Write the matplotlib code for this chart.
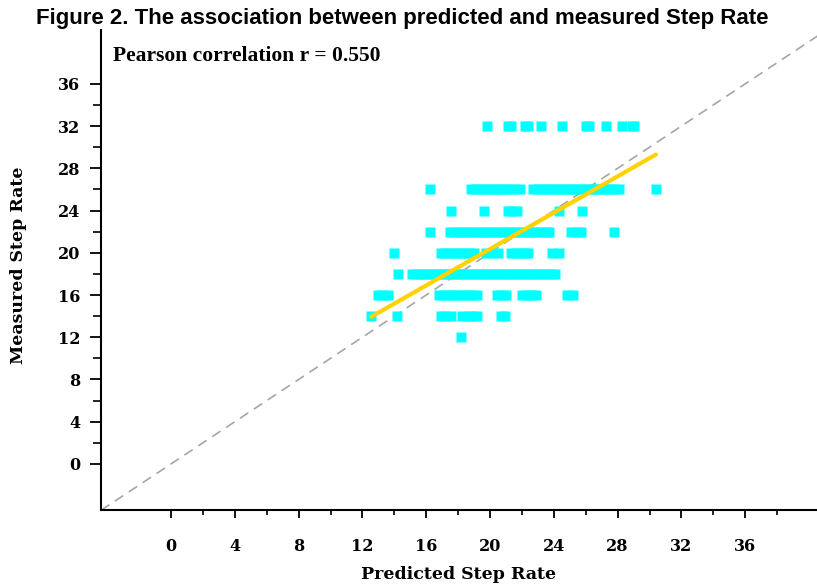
import matplotlib

matplotlib.use("Agg")
import matplotlib.pyplot as plt
import numpy as np
from matplotlib.ticker import FixedLocator

# predicted step rate values, grouped by the measured step rate they belong to
pred_at_32 = [19.8, 21.1, 21.3, 22.2, 22.4, 23.2, 24.5, 26.0, 26.2, 27.25, 28.25, 28.9, 29.05]
pred_at_26 = [16.25, 18.8, 19.1, 19.4, 19.7, 20.0, 20.3, 20.6, 20.9, 21.2, 21.5, 21.9,
              22.7, 23.0, 23.3, 23.6, 23.9, 24.2, 24.5, 24.8, 25.1, 25.4, 25.7, 26.0,
              26.3, 26.6, 26.9, 27.2, 27.5, 27.8, 28.1, 30.4]
pred_at_24 = [17.55, 19.6, 21.1, 21.4, 21.7, 24.3, 25.75]
pred_at_22 = [16.25, 17.5, 17.8, 18.1, 18.4, 18.7, 19.0, 19.3, 19.6, 19.9, 20.2, 20.5,
              20.8, 21.1, 21.4, 21.7, 22.0, 22.3, 22.6, 22.9, 23.2, 23.5, 23.7,
              25.05, 25.4, 25.7, 27.8]
pred_at_20 = [13.95, 16.9, 17.2, 17.5, 17.8, 18.1, 18.4, 18.7, 19.0, 19.75, 20.1, 20.5,
              21.3, 21.6, 21.9, 22.2, 22.4, 23.9, 24.3]
pred_at_18 = [14.25, 15.1, 15.4, 15.7, 16.0, 16.3, 16.6, 16.9, 17.2, 17.5, 17.8, 18.1,
              18.4, 18.7, 19.0, 19.3, 19.6, 19.9, 20.2, 20.5, 20.8, 21.1, 21.4, 21.7,
              22.0, 22.3, 22.6, 22.9, 23.2, 23.5, 23.8, 24.05]
pred_at_16 = [12.95, 13.3, 13.6, 16.8, 17.1, 17.4, 17.7, 18.0, 18.3, 18.6, 18.9, 19.2,
              20.45, 20.75, 21.0, 22.0, 22.3, 22.6, 22.9, 24.8, 25.2]
pred_at_14 = [12.55, 14.15, 16.9, 17.2, 17.55, 18.25, 18.6, 18.9, 19.2, 20.7, 20.95]
pred_at_12 = [18.2]

measured_levels = [32, 26, 24, 22, 20, 18, 16, 14, 12]
pred_groups = [pred_at_32, pred_at_26, pred_at_24, pred_at_22, pred_at_20,
               pred_at_18, pred_at_16, pred_at_14, pred_at_12]

# least squares fit reported with the chart
fit_slope = 0.861
fit_intercept = 3.13
pearson_r = 0.550

tick_values = [0, 4, 8, 12, 16, 20, 24, 28, 32, 36]

predicted = np.concatenate([np.asarray(g, float) for g in pred_groups])
measured = np.concatenate([np.full(len(g), lvl, float) for g, lvl in zip(pred_groups, measured_levels)])

fig = plt.figure(figsize=(8.17, 5.88), dpi=100)
ax = fig.add_axes([0.1236, 0.1327, 0.8764, 0.8163])

xlo, xhi = -4.39, 40.5
ylo, yhi = -4.36, 41.1
ax.set_xlim(xlo, xhi)
ax.set_ylim(ylo, yhi)

# identity line
ax.plot([xlo, 42], [xlo, 42], ls=(0, (6, 4)), color="#a6a6a6", lw=1.2, zorder=1)

ax.plot(predicted, measured, ls="none", marker="s", ms=7.0, mfc="#00ffff",
        mec="none", zorder=2)

fx = np.array([predicted.min(), predicted.max()])
ax.plot(fx, fit_intercept + fit_slope * fx, color="#ffd200", lw=3.0,
        solid_capstyle="round", zorder=3)

for side in ("top", "right"):
    ax.spines[side].set_visible(False)
for side in ("left", "bottom"):
    ax.spines[side].set_linewidth(1.5)

ax.xaxis.set_major_locator(FixedLocator(tick_values))
ax.yaxis.set_major_locator(FixedLocator(tick_values))
ax.xaxis.set_minor_locator(FixedLocator(np.arange(2, 39, 4)))
ax.yaxis.set_minor_locator(FixedLocator(np.arange(2, 35, 4)))
ax.tick_params(axis="x", which="major", length=6, width=1.3, pad=14)
ax.tick_params(axis="x", which="minor", length=3.6, width=1.2)
ax.tick_params(axis="y", which="major", length=8, width=1.3, pad=7)
ax.tick_params(axis="y", which="minor", length=5.5, width=1.2)

serif = ["DejaVu Serif"]
for lab in ax.get_xticklabels() + ax.get_yticklabels():
    lab.set_family(serif)
    lab.set_fontweight("bold")
    lab.set_fontsize(11.5)

ax.set_xlabel("Predicted Step Rate", family=serif, fontweight="bold", fontsize=12.5)
ax.set_ylabel("Measured Step Rate", family=serif, fontweight="bold", fontsize=12.5)
ax.xaxis.set_label_coords(0.5, -0.117)
ax.yaxis.set_label_coords(-0.104, 0.51)

ax.text(0.0168, 0.946, f"Pearson correlation r = {pearson_r:.3f}", transform=ax.transAxes,
        family=["Liberation Serif"], fontweight="bold", fontsize=15.5, va="center", ha="left")

fig.text(0.492, 0.969, "Figure 2. The association between predicted and measured Step Rate",
         family=["Liberation Sans"], fontweight="bold", fontsize=16, ha="center", va="center")

fig.savefig("out.png", dpi=100)
plt.close(fig)
